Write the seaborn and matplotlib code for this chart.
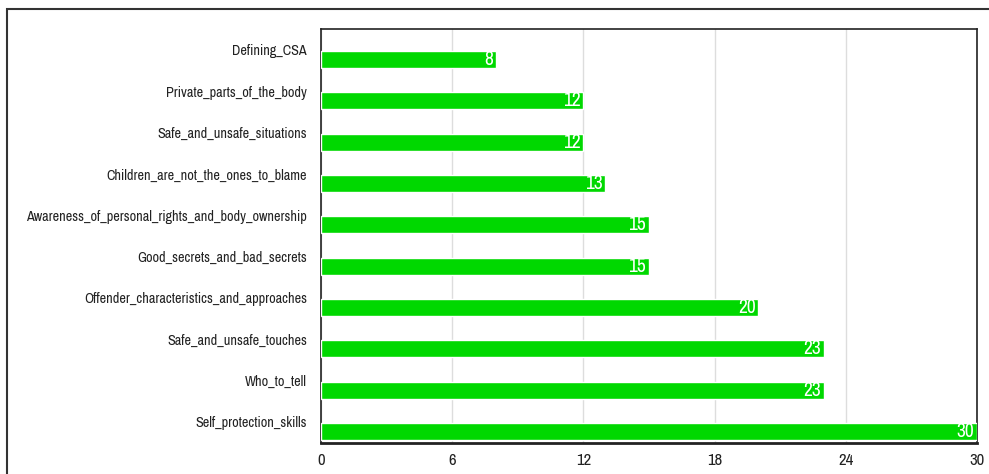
import matplotlib
matplotlib.use("Agg")
import matplotlib.pyplot as plt
import seaborn as sns
import pandas as pd
from matplotlib.patches import Rectangle
from matplotlib import font_manager

categories = ["Defining_CSA", "Private_parts_of_the_body", "Safe_and_unsafe_situations",
              "Children_are_not_the_ones_to_blame",
              "Awareness_of_personal_rights_and_body_ownership",
              "Good_secrets_and_bad_secrets", "Offender_characteristics_and_approaches",
              "Safe_and_unsafe_touches", "Who_to_tell", "Self_protection_skills"]
values = [8, 12, 12, 13, 15, 15, 20, 23, 23, 30]
xticks = [0, 6, 12, 18, 24, 30]

sns.set_theme(style="white")
names = {f.name for f in font_manager.fontManager.ttflist}
candidates = ["Liberation Sans Narrow", "Arial Narrow", "Archivo Narrow", "Roboto Condensed",
              "PT Sans Narrow", "Sofia Sans Condensed", "Encode Sans Condensed",
              "IBM Plex Sans Condensed", "Open Sans Condensed", "Liberation Sans"]
fam = next(c for c in candidates if c in names)
plt.rcParams["font.family"] = [fam, "DejaVu Sans"]

df = pd.DataFrame({"topic": categories, "count": values})

fig = plt.figure(figsize=(9.89, 4.74), dpi=100)
ax = fig.add_axes([321/989, 1-443/474, (977-321)/989, (443-29.3)/474])

sns.barplot(data=df, x="count", y="topic", orient="h", color="#00d800",
            saturation=1, width=0.41, ax=ax, zorder=3)

# fit label font so the longest label spans about 280 px like the reference
renderer = fig.canvas.get_renderer()
probe = fig.text(0, 0, max(categories, key=len), fontsize=10)
w10 = probe.get_window_extent(renderer).width
probe.remove()
lab_fs = min(12, 10 * 280 / w10)

ax.set_xlim(0, 30)
ax.set_ylim(9.28, -0.73)
ax.set_xticks(xticks)
ax.set_xticklabels([str(t) for t in xticks], fontsize=12, color="#222222")
ax.set_yticks([i - 0.23 for i in range(len(categories))])
ax.set_yticklabels(categories, fontsize=lab_fs, color="#222222")
ax.tick_params(axis="y", length=0, pad=10)
ax.tick_params(axis="x", length=0, pad=7)
ax.set_xlabel("")
ax.set_ylabel("")
ax.grid(axis="x", color="#dddddd", linewidth=1, zorder=0)
ax.grid(axis="y", visible=False)
for s in ax.spines.values():
    s.set_color("#222222")
    s.set_linewidth(1.2)
ax.spines["bottom"].set_linewidth(2)

for c in ax.containers:
    txts = ax.bar_label(c, labels=[str(v) for v in values], padding=-2, color="white",
                        fontsize=14, label_type="edge")
    for t in txts:
        t.set_horizontalalignment("right")

fig.patches.append(Rectangle((7/989, -0.1), 1.2, 1 - 9/474 + 0.1,
                             transform=fig.transFigure, fill=False,
                             edgecolor="#333333", linewidth=1.5))

fig.savefig("out.png", dpi=100)
